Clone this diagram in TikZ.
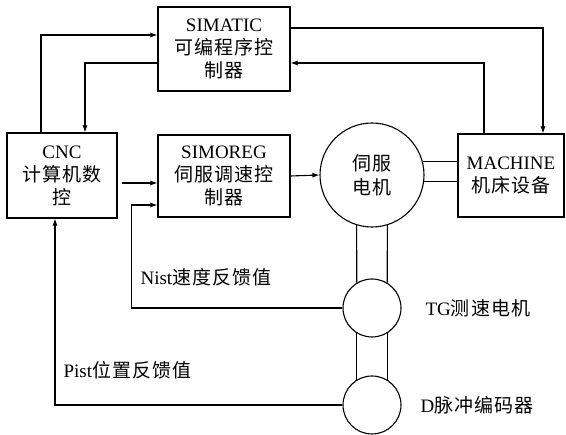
\documentclass[tikz,border=0pt]{standalone}
\usepackage{fontspec}
\setmainfont{Liberation Serif}
\newfontfamily\cjk{Noto Sans CJK SC}[LetterSpace=6]
\usetikzlibrary{arrows.meta}

\begin{document}
\begin{tikzpicture}[x=1pt,y=-1pt,line width=1.1pt,
	blk/.style={draw, rectangle, align=center, inner sep=0pt, font=\fontsize{19}{23}\selectfont},
	rnd/.style={draw, circle, align=center, inner sep=0pt, font=\fontsize{19}{24}\selectfont},
	lbl/.style={anchor=west, inner sep=0pt, font=\fontsize{19}{23}\selectfont},
	arr/.style={-{Latex[length=7pt,width=5pt]}}]
	\useasboundingbox (0,0) rectangle (566,435);
	%Shape: Rectangle [id:simatic]
	\node [blk, minimum width=132pt, minimum height=84pt] (simatic) at (224,49) {SIMATIC\\{\cjk 可编程序控}\\{\cjk 制器}};
	%Shape: Rectangle [id:cnc]
	\node [blk, minimum width=110pt, minimum height=85pt] (cnc) at (62,175.5) {CNC\\{\cjk 计算机数}\\{\cjk 控}};
	%Shape: Rectangle [id:simoreg]
	\node [blk, minimum width=132pt, minimum height=82pt] (simoreg) at (224,176) {SIMOREG\\{\cjk 伺服调速控}\\{\cjk 制器}};
	%Shape: Rectangle [id:machine]
	\node [blk, minimum width=106pt, minimum height=83pt] (machine) at (511,175.5) {MACHINE\\{\cjk 机床设备}};
	%Shape: Circle [id:motor]
	\node [rnd, minimum size=104pt] (motor) at (372,175) {{\cjk 伺服}\\{\cjk 电机}};
	%Shape: Circle [id:tg]
	\node [rnd, minimum size=58pt] (tg) at (372,308) {};
	%Shape: Circle [id:enc]
	\node [rnd, minimum size=58pt] (enc) at (372,405) {};
	%Straight Lines [id:top]
	\draw [arr] (simatic.east |- 0,28) -| ([xshift=32pt]machine.north);
	\draw [arr] ([xshift=-27pt]machine.north) |- (simatic.east |- 0,63);
	\draw [arr] ([xshift=-21pt]cnc.north) |- (simatic.west |- 0,35);
	\draw [arr] (simatic.west |- 0,63) -| ([xshift=23pt]cnc.north);
	%Straight Lines [id:mid]
	\draw [arr] ([xshift=4pt]cnc.east |- 0,183) -- (simoreg.west |- 0,183);
	\draw [arr] (simoreg.east) -- (motor.west);
	\draw (motor.15) -- (motor.15 -| machine.west);
	\draw (motor.-7) -- (motor.-7 -| machine.west);
	%Straight Lines [id:shaft]
	\draw (motor.-107) -- (tg.121);
	\draw (motor.-73) -- (tg.59);
	\draw (tg.-121) -- (enc.121);
	\draw (tg.-59) -- (enc.59);
	%Straight Lines [id:feedback]
	\draw [arr] (tg.west) -| ([xshift=-26pt]simoreg.west |- 0,205) -- (simoreg.west |- 0,205);
	\draw [arr] (enc.west) -| ([xshift=-7pt]cnc.south);
	\draw (140,277) node [lbl] (nist) {Nist{\cjk 速度反馈值}};
	\draw (63,370) node [lbl] (pist) {Pist{\cjk 位置反馈值}};
	\draw (425,308) node [lbl] (tglbl) {TG{\cjk 测速电机}};
	\draw (420,405) node [lbl] (enclbl) {D{\cjk 脉冲编码器}};
\end{tikzpicture}
\end{document}
